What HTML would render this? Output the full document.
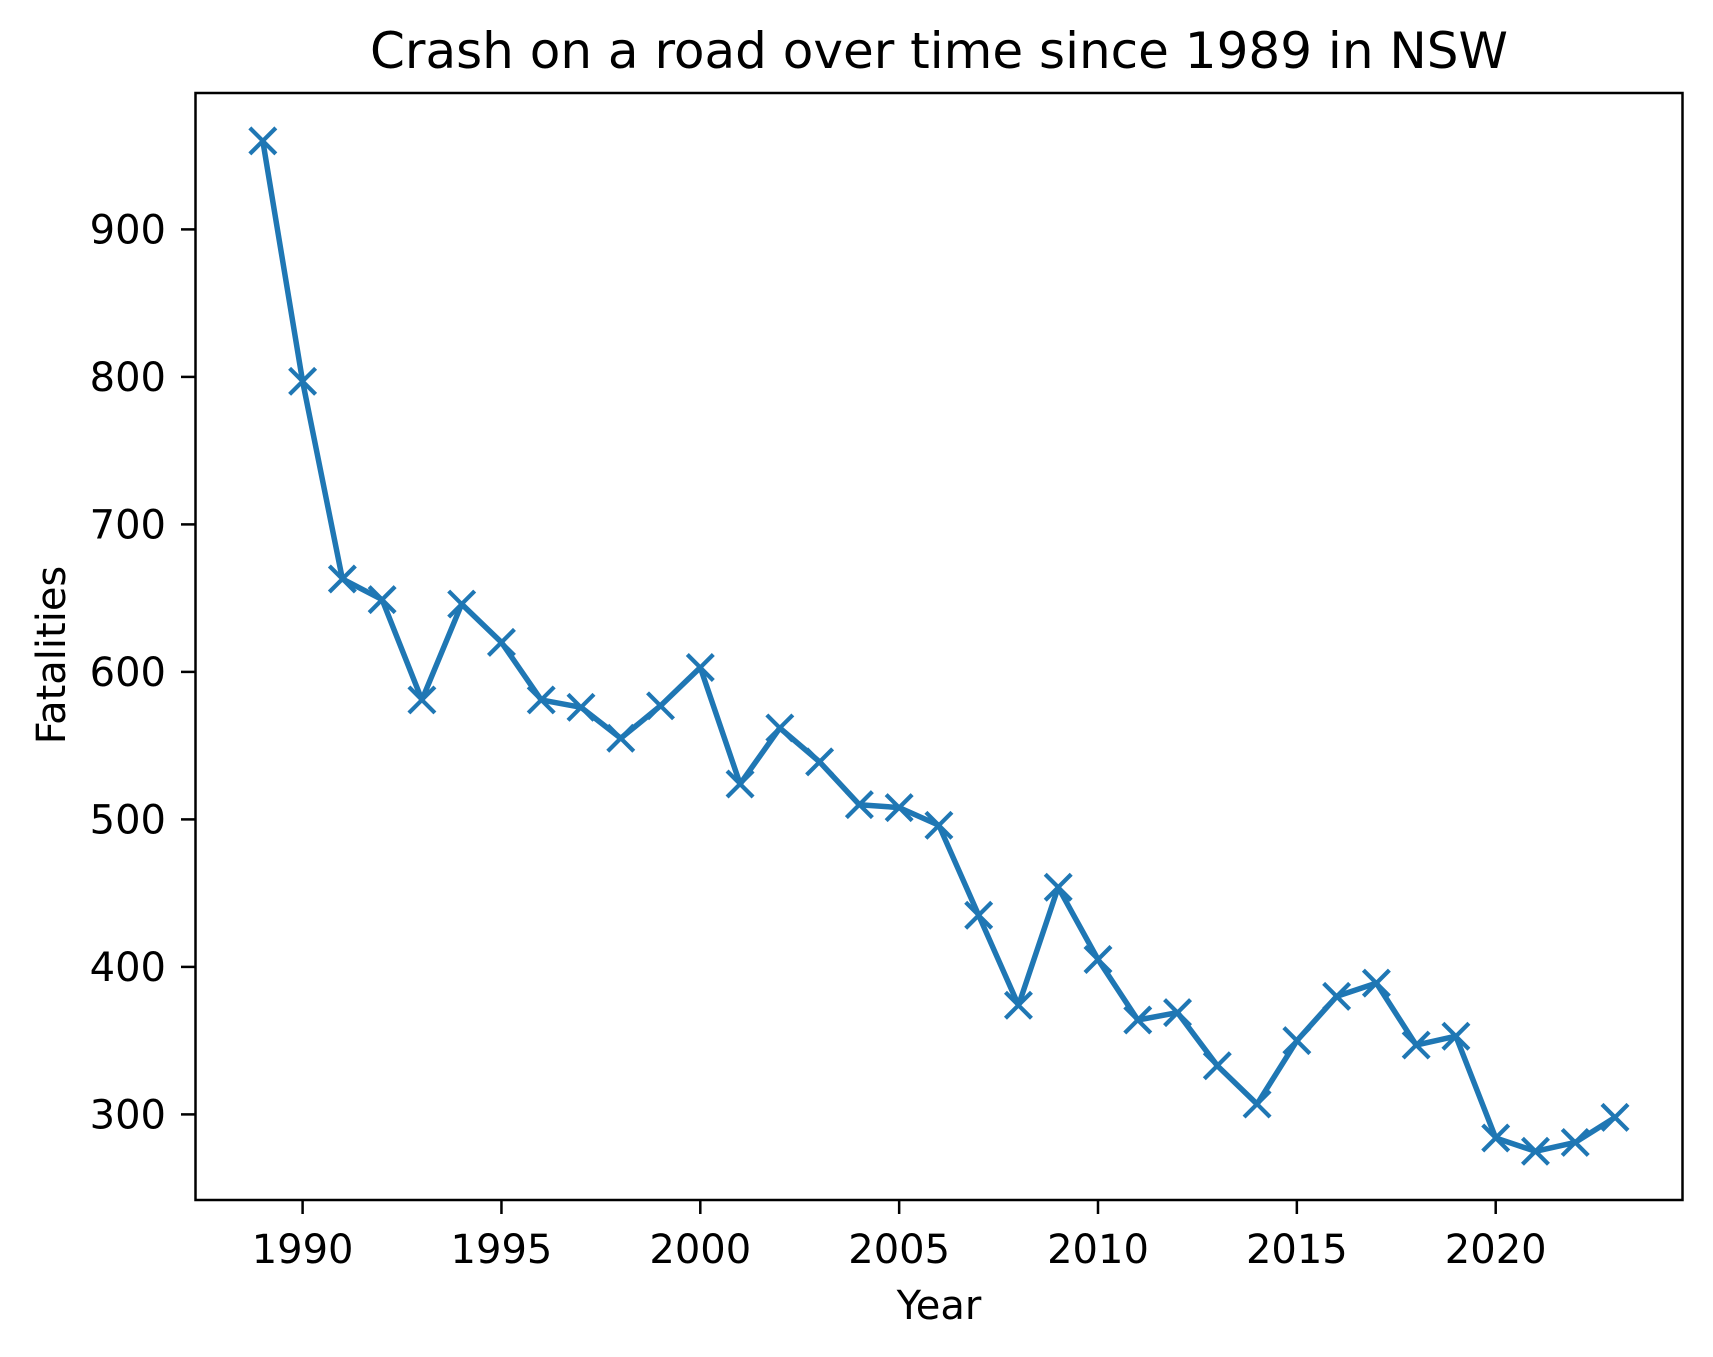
<!DOCTYPE html>
<html><head><meta charset="utf-8"><style>
html,body{margin:0;padding:0;background:#fff}
svg{display:block;font-family:"DejaVu Sans","Liberation Sans",sans-serif}
</style></head><body>
<svg id="chart" width="1713" height="1357" viewBox="0 0 1713 1357">
<rect x="0" y="0" width="1713" height="1357" fill="#fff"/>
<text x="939" y="68" font-size="50" text-anchor="middle">Crash on a road over time since 1989 in NSW</text>
<g id="xticks"></g>
<g id="yticks"></g>
<g id="series"></g>
<rect x="195.5" y="93" width="1487" height="1107" fill="none" stroke="#000" stroke-width="2.5"/>
<text x="939" y="1319" font-size="40" text-anchor="middle">Year</text>
<text x="0" y="0" font-size="40" text-anchor="middle" transform="translate(65,655) rotate(-90)">Fatalities</text>
</svg>
<script>
const years = [1989,1990,1991,1992,1993,1994,1995,1996,1997,1998,1999,2000,2001,2002,2003,2004,2005,2006,2007,2008,2009,2010,2011,2012,2013,2014,2015,2016,2017,2018,2019,2020,2021,2022,2023];
const fatalities = [960,797,663,649,581,646,620,581,576,555,577,603,524,562,539,510,508,496,435,374,454,405,364,369,333,307,350,380,389,347,353,284,275,281,298];
const xTickLabels = [1990,1995,2000,2005,2010,2015,2020];
const yTickLabels = [300,400,500,600,700,800,900];

const NS='http://www.w3.org/2000/svg';
function X(v){return 302.6 + (v-1990)*39.77;}
function Y(v){return 1114.4 - (v-300)*1.475;}
function mk(tag,attrs,parent){const e=document.createElementNS(NS,tag);for(const k in attrs)e.setAttribute(k,attrs[k]);parent.appendChild(e);return e;}

const xg=document.getElementById('xticks');
xTickLabels.forEach(t=>{
  const x=X(t);
  const l=mk('line',{x1:x,x2:x,y1:1200,y2:1214,stroke:'#000','stroke-width':2.5},xg);
  
  
  const tx=mk('text',{x:x,y:1263,'font-size':40,'text-anchor':'middle'},xg);
  tx.textContent=t;
  
  
});
const yg=document.getElementById('yticks');
yTickLabels.forEach(t=>{
  const y=Y(t);
  const l=mk('line',{x1:181,x2:195,y1:y,y2:y,stroke:'#000','stroke-width':2.5},yg);
  
  
  const tx=mk('text',{x:166,y:y+14,'font-size':40,'text-anchor':'end'},yg);
  tx.textContent=t;
  
  
});
const sg=document.getElementById('series');
const pts=years.map((yr,i)=>X(yr).toFixed(1)+','+Y(fatalities[i]).toFixed(1)).join(' ');
const pl=mk('polyline',{points:pts,fill:'none',stroke:'#1f77b4','stroke-width':5.5,'stroke-linejoin':'round'},sg);


years.forEach((yr,i)=>{
  const x=X(yr),y=Y(fatalities[i]),s=13;
  const p=mk('path',{d:`M${x-s},${y-s}L${x+s},${y+s}M${x-s},${y+s}L${x+s},${y-s}`,stroke:'#1f77b4','stroke-width':4.2,fill:'none'},sg);
  
  
});
</script>
</body></html>
